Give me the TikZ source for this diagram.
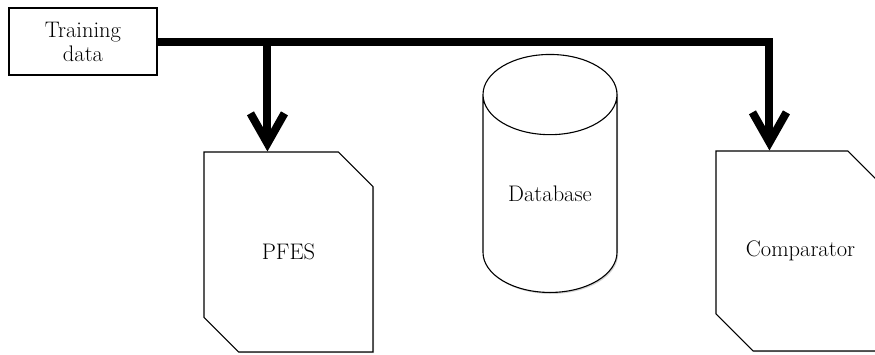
\documentclass[tikz,border=0pt]{standalone}
\usepackage{tikz}
\usetikzlibrary{arrows.meta,positioning,shapes.geometric,shapes.misc,shadows}

\begin{document}
\begin{tikzpicture}[
  x=1pt, y=-1pt,
  every node/.style={font=\fontsize{22.5}{24}\selectfont},
  databox/.style={draw, line width=1.1pt, minimum width=148pt, minimum height=67pt, align=center, inner sep=0pt,
    fill=white, drop shadow={shadow xshift=1.2pt, shadow yshift=-1.2pt, opacity=0.35}},
  sheet/.style={draw, line width=1.1pt, chamfered rectangle, chamfered rectangle corners={north east, south west},
    chamfered rectangle xsep=29pt, chamfered rectangle ysep=27pt, minimum width=169pt, minimum height=200pt, inner sep=0pt,
    fill=white, drop shadow={shadow xshift=1pt, shadow yshift=-1pt, opacity=0.3}},
  store/.style={draw, line width=1.1pt, cylinder, shape border rotate=90, aspect=0.96, minimum width=134pt, minimum height=238pt, inner sep=0pt,
    fill=white, drop shadow={shadow xshift=1.2pt, shadow yshift=-1.5pt, opacity=0.35}},
  flow/.style={line width=8pt, -{Straight Barb[length=30pt, width=34pt]}}
]
\clip (0,0) rectangle (875,354);

\node[databox] (train) at (83, 41.5) {Training\\data};
\node[sheet] (pfes) at (288.5, 252) {PFES};
\node[store, anchor=south] (db) at (550, 293) {Database};
\node[sheet] (comp) at (800.5, 251) {Comparator};

\coordinate (pfesin) at ([xshift=64pt]pfes.north west);
\coordinate (compin) at ([xshift=54pt]comp.north west);

\draw[flow] (train.east) -| (compin);
\draw[flow] (pfesin |- train.east) -- (pfesin);
\end{tikzpicture}
\end{document}
